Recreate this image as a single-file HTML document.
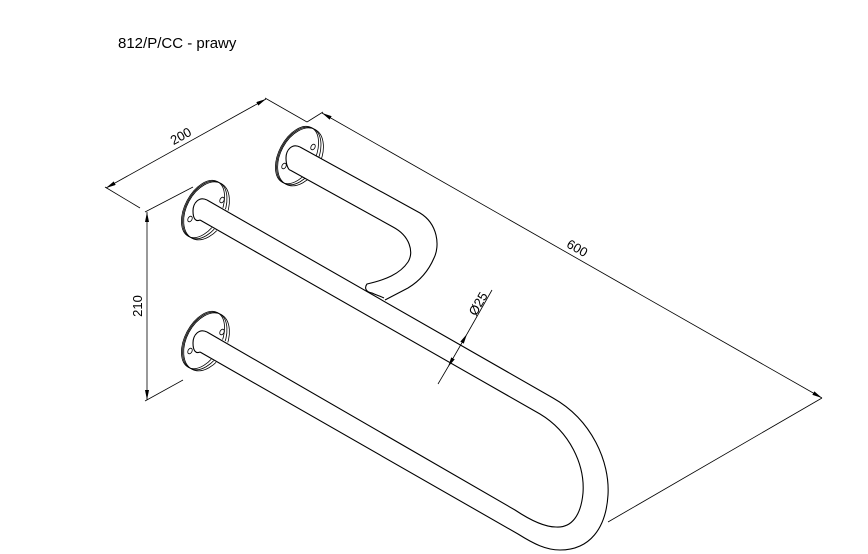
<!DOCTYPE html>
<html><head><meta charset="utf-8"><style>
html,body{margin:0;padding:0;background:#fff;}
svg{display:block;}
text{font-family:"Liberation Sans",sans-serif;fill:#000;}
</style></head><body>
<svg width="868" height="554" viewBox="0 0 868 554" xmlns="http://www.w3.org/2000/svg">
<defs>
<marker id="ar" viewBox="0 0 10 4" refX="10" refY="2" markerWidth="10" markerHeight="4" orient="auto-start-reverse" markerUnits="userSpaceOnUse">
<path d="M0,0 L10,2 L0,4 z" fill="#000"/></marker>
</defs>
<text x="118" y="48" font-size="15">812/P/CC - prawy</text>
<!-- flanges -->
<g fill="none" stroke="#000" stroke-width="0.8">
<g transform="translate(297,155) rotate(28)">
<ellipse rx="18" ry="31"/><ellipse rx="19" ry="31" transform="translate(2,0)"/><ellipse rx="20" ry="31" transform="translate(4,0)"/>
</g>
<ellipse cx="284" cy="166" rx="2" ry="3" transform="rotate(28 284 166)"/>
<ellipse cx="313" cy="147" rx="2" ry="3" transform="rotate(28 313 147)"/>
<g transform="translate(203,209) rotate(28)">
<ellipse rx="18" ry="31"/><ellipse rx="19" ry="31" transform="translate(2,0)"/><ellipse rx="20" ry="31" transform="translate(4,0)"/>
</g>
<ellipse cx="190" cy="219" rx="2" ry="3" transform="rotate(28 190 219)"/>
<ellipse cx="222" cy="200" rx="2" ry="3" transform="rotate(28 222 200)"/>
<g transform="translate(203,340) rotate(28)">
<ellipse rx="18" ry="31"/><ellipse rx="19" ry="31" transform="translate(2,0)"/><ellipse rx="20" ry="31" transform="translate(4,0)"/>
</g>
<ellipse cx="190" cy="351" rx="2" ry="3" transform="rotate(28 190 351)"/>
<ellipse cx="222" cy="332" rx="2" ry="3" transform="rotate(28 222 332)"/>
</g>
<!-- white tube bodies occluding flanges -->
<g fill="#fff" stroke="none">
<polygon points="302,148 345,172 333,195 292,170"/>
<polygon points="209,200 250,223 240,245 201,221"/>
<polygon points="209,332 250,355 240,377 201,353"/>
</g>
<g fill="none" stroke="#000" stroke-width="1.1">
<!-- tube ends -->
<path d="M300,147 C292,143 286,150 286,158 C286,166 289,170 290,170"/>
<path d="M207,200 C199,196 193,203 193,211 C193,219 196,222 200,220"/>
<path d="M207,332 C199,328 193,335 193,343 C193,351 196,354 200,352"/>
<!-- short upper U -->
<path d="M300,147 L420,213 C438,224 440,246 434,258 C428,272 418,282 408,288 L385,300"/>
<path d="M290,170 L393,227 C410,236 414,252 408,262 C400,274 385,280 367,284 C364,288 366,292 372,293 C376,295 380,296 384,298"/>
<!-- long U -->
<path d="M207,200 L553,398 C592,420 610,462 608,495 C606,528 590,550 560,550 C546,550 534,544 518,534 L200,352"/>
<path d="M200,220 L540,414 C570,432 585,465 583,493 C581,515 572,528 556,527 C545,527 530,520 515,510 L207,332"/>
</g>
<!-- dimensions -->
<g fill="none" stroke="#000" stroke-width="0.8">
<line x1="106" y1="188" x2="266" y2="99" marker-start="url(#ar)" marker-end="url(#ar)"/>
<line x1="265" y1="98" x2="307" y2="122"/>
<line x1="105" y1="187" x2="140" y2="208"/>
<line x1="147" y1="212" x2="147" y2="400" marker-start="url(#ar)" marker-end="url(#ar)"/>
<line x1="145" y1="212" x2="193" y2="187"/>
<line x1="145" y1="401" x2="183" y2="380"/>
<line x1="322" y1="113" x2="822" y2="398" marker-start="url(#ar)" marker-end="url(#ar)"/>
<line x1="307" y1="122" x2="323" y2="112"/>
<line x1="608" y1="522" x2="822" y2="398"/>
<line x1="438" y1="384" x2="448" y2="367"/>
<line x1="448" y1="367" x2="467" y2="334" marker-start="url(#ar)" marker-end="url(#ar)"/>
<line x1="467" y1="334" x2="492" y2="290"/>
</g>
<text x="183" y="140" font-size="13" transform="rotate(-29 183 140)" text-anchor="middle">200</text>
<text x="142" y="306" font-size="13" transform="rotate(-90 142 306)" text-anchor="middle">210</text>
<text x="575" y="252" font-size="13" transform="rotate(30 575 252)" text-anchor="middle">600</text>
<text x="482" y="306" font-size="13" transform="rotate(-60 482 306)" text-anchor="middle">Ø25</text>
</svg>
</body></html>
